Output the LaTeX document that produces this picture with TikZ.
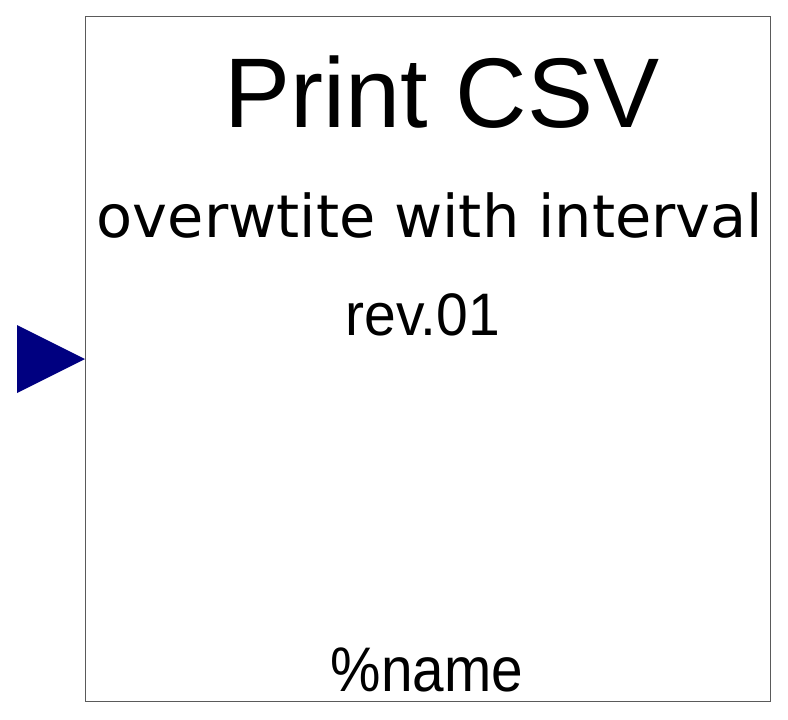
\documentclass[tikz,border=0pt]{standalone}
\usepackage{fontspec}
\setmainfont{Liberation Sans}
\newfontfamily\dejavu{DejaVu Sans}
\definecolor{portblue}{RGB}{0,0,128}
\definecolor{frame}{RGB}{90,90,90}
\begin{document}
\begin{tikzpicture}[x=1bp,y=-1bp,line width=1bp,
  label/.style={inner sep=0pt,anchor=base}]
  \useasboundingbox (0,0) rectangle (788,720);

  % block outline
  \coordinate (NW) at (85,17);
  \coordinate (SE) at (770,701);
  \draw[frame] (NW) rectangle (SE);

  % input port
  \coordinate (P1) at (17,325);
  \coordinate (P2) at (85,359);
  \coordinate (P3) at (17,393);
  \fill[portblue] (P1) -- (P2) -- (P3) -- cycle;

  % texts
  \node[label,font=\fontsize{99bp}{99bp}\selectfont] (title) at (442,128) {Print CSV};
  \node[label,font=\dejavu\fontsize{59bp}{59bp}\selectfont] (mode) at (430,237) {overwtite with interval};
  \node[label,font=\fontsize{60bp}{60bp}\selectfont] (rev) at (423,335) {\scalebox{0.95}[1]{rev.01}};
  \node[label,font=\fontsize{63bp}{63bp}\selectfont] (name) at (427,691) {\scalebox{0.9}[1]{\%name}};
\end{tikzpicture}
\end{document}
